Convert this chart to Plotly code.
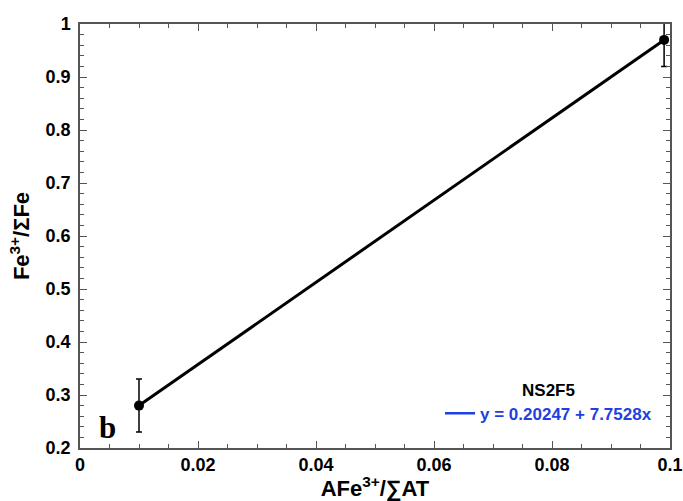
import plotly.graph_objects as go

x_vals = [0.01, 0.099]
y_vals = [0.28, 0.97]
y_err = [0.05, 0.05]
fit_label = "y = 0.20247 + 7.7528x"
series_name = "NS2F5"
x_ticks = [0, 0.02, 0.04, 0.06, 0.08, 0.1]
y_ticks = [0.2, 0.3, 0.4, 0.5, 0.6, 0.7, 0.8, 0.9, 1]

FONT = "Arial, Liberation Sans, sans-serif"

fig = go.Figure()
fig.add_trace(go.Scatter(
    x=x_vals, y=y_vals, mode="lines+markers",
    line=dict(color="black", width=3),
    marker=dict(color="black", size=10),
    error_y=dict(type="data", array=y_err, color="black", thickness=1.5, width=3),
    showlegend=False,
))
fig.add_trace(go.Scatter(
    x=[None], y=[None], mode="lines", name="<b>" + fit_label + "</b>",
    line=dict(color="#1f3fe0", width=2.5), showlegend=True,
))

axis_common = dict(
    showline=True, linecolor="#555", linewidth=1.5, mirror="ticks",
    ticks="inside", ticklen=7, tickcolor="#555", tickwidth=1,
    showgrid=False, zeroline=False, automargin=False,
    tickfont=dict(family=FONT, size=18, color="black"),
)

fig.update_xaxes(
    range=[0, 0.1], tickvals=x_ticks, ticktext=["<b>%s</b>" % v for v in x_ticks],
    minor=dict(dtick=0.005, ticks="inside", ticklen=4, tickcolor="#555"),
    title=dict(text="<b>AFe<sup>3+</sup>/∑AT</b>", standoff=5,
               font=dict(family=FONT, size=22, color="black")),
    **axis_common,
)
fig.update_yaxes(
    range=[0.2, 1], tickvals=y_ticks, ticktext=["<b>%s</b>" % v for v in y_ticks],
    minor=dict(dtick=0.02, ticks="inside", ticklen=4, tickcolor="#555"),
    ticklabelstandoff=4,
    title=dict(text="<b>Fe<sup>3+</sup>/ΣFe</b>", standoff=10,
               font=dict(family=FONT, size=22, color="black")),
    **axis_common,
)

fig.add_annotation(
    x=0.0046, y=0.238, xref="x", yref="y", text="<b>b</b>", showarrow=False,
    font=dict(family="Liberation Serif, Times New Roman, serif", size=31, color="black"),
)

fig.update_layout(
    width=683, height=501,
    margin=dict(l=80, r=13, t=24, b=53),
    plot_bgcolor="white", paper_bgcolor="white",
    legend=dict(
        x=0.978, y=0.0386, xanchor="right", yanchor="bottom",
        bgcolor="rgba(0,0,0,0)",
        title=dict(text="<b>" + series_name + "</b>", side="top center",
                   font=dict(family=FONT, size=17, color="black")),
        font=dict(family=FONT, size=17, color="#1f3fe0"),
        itemwidth=30,
    ),
)

fig.write_html(
    "out.html",
    config={"displayModeBar": False},
    post_script="document.body.style.margin='0';document.body.style.overflow='hidden';",
)
